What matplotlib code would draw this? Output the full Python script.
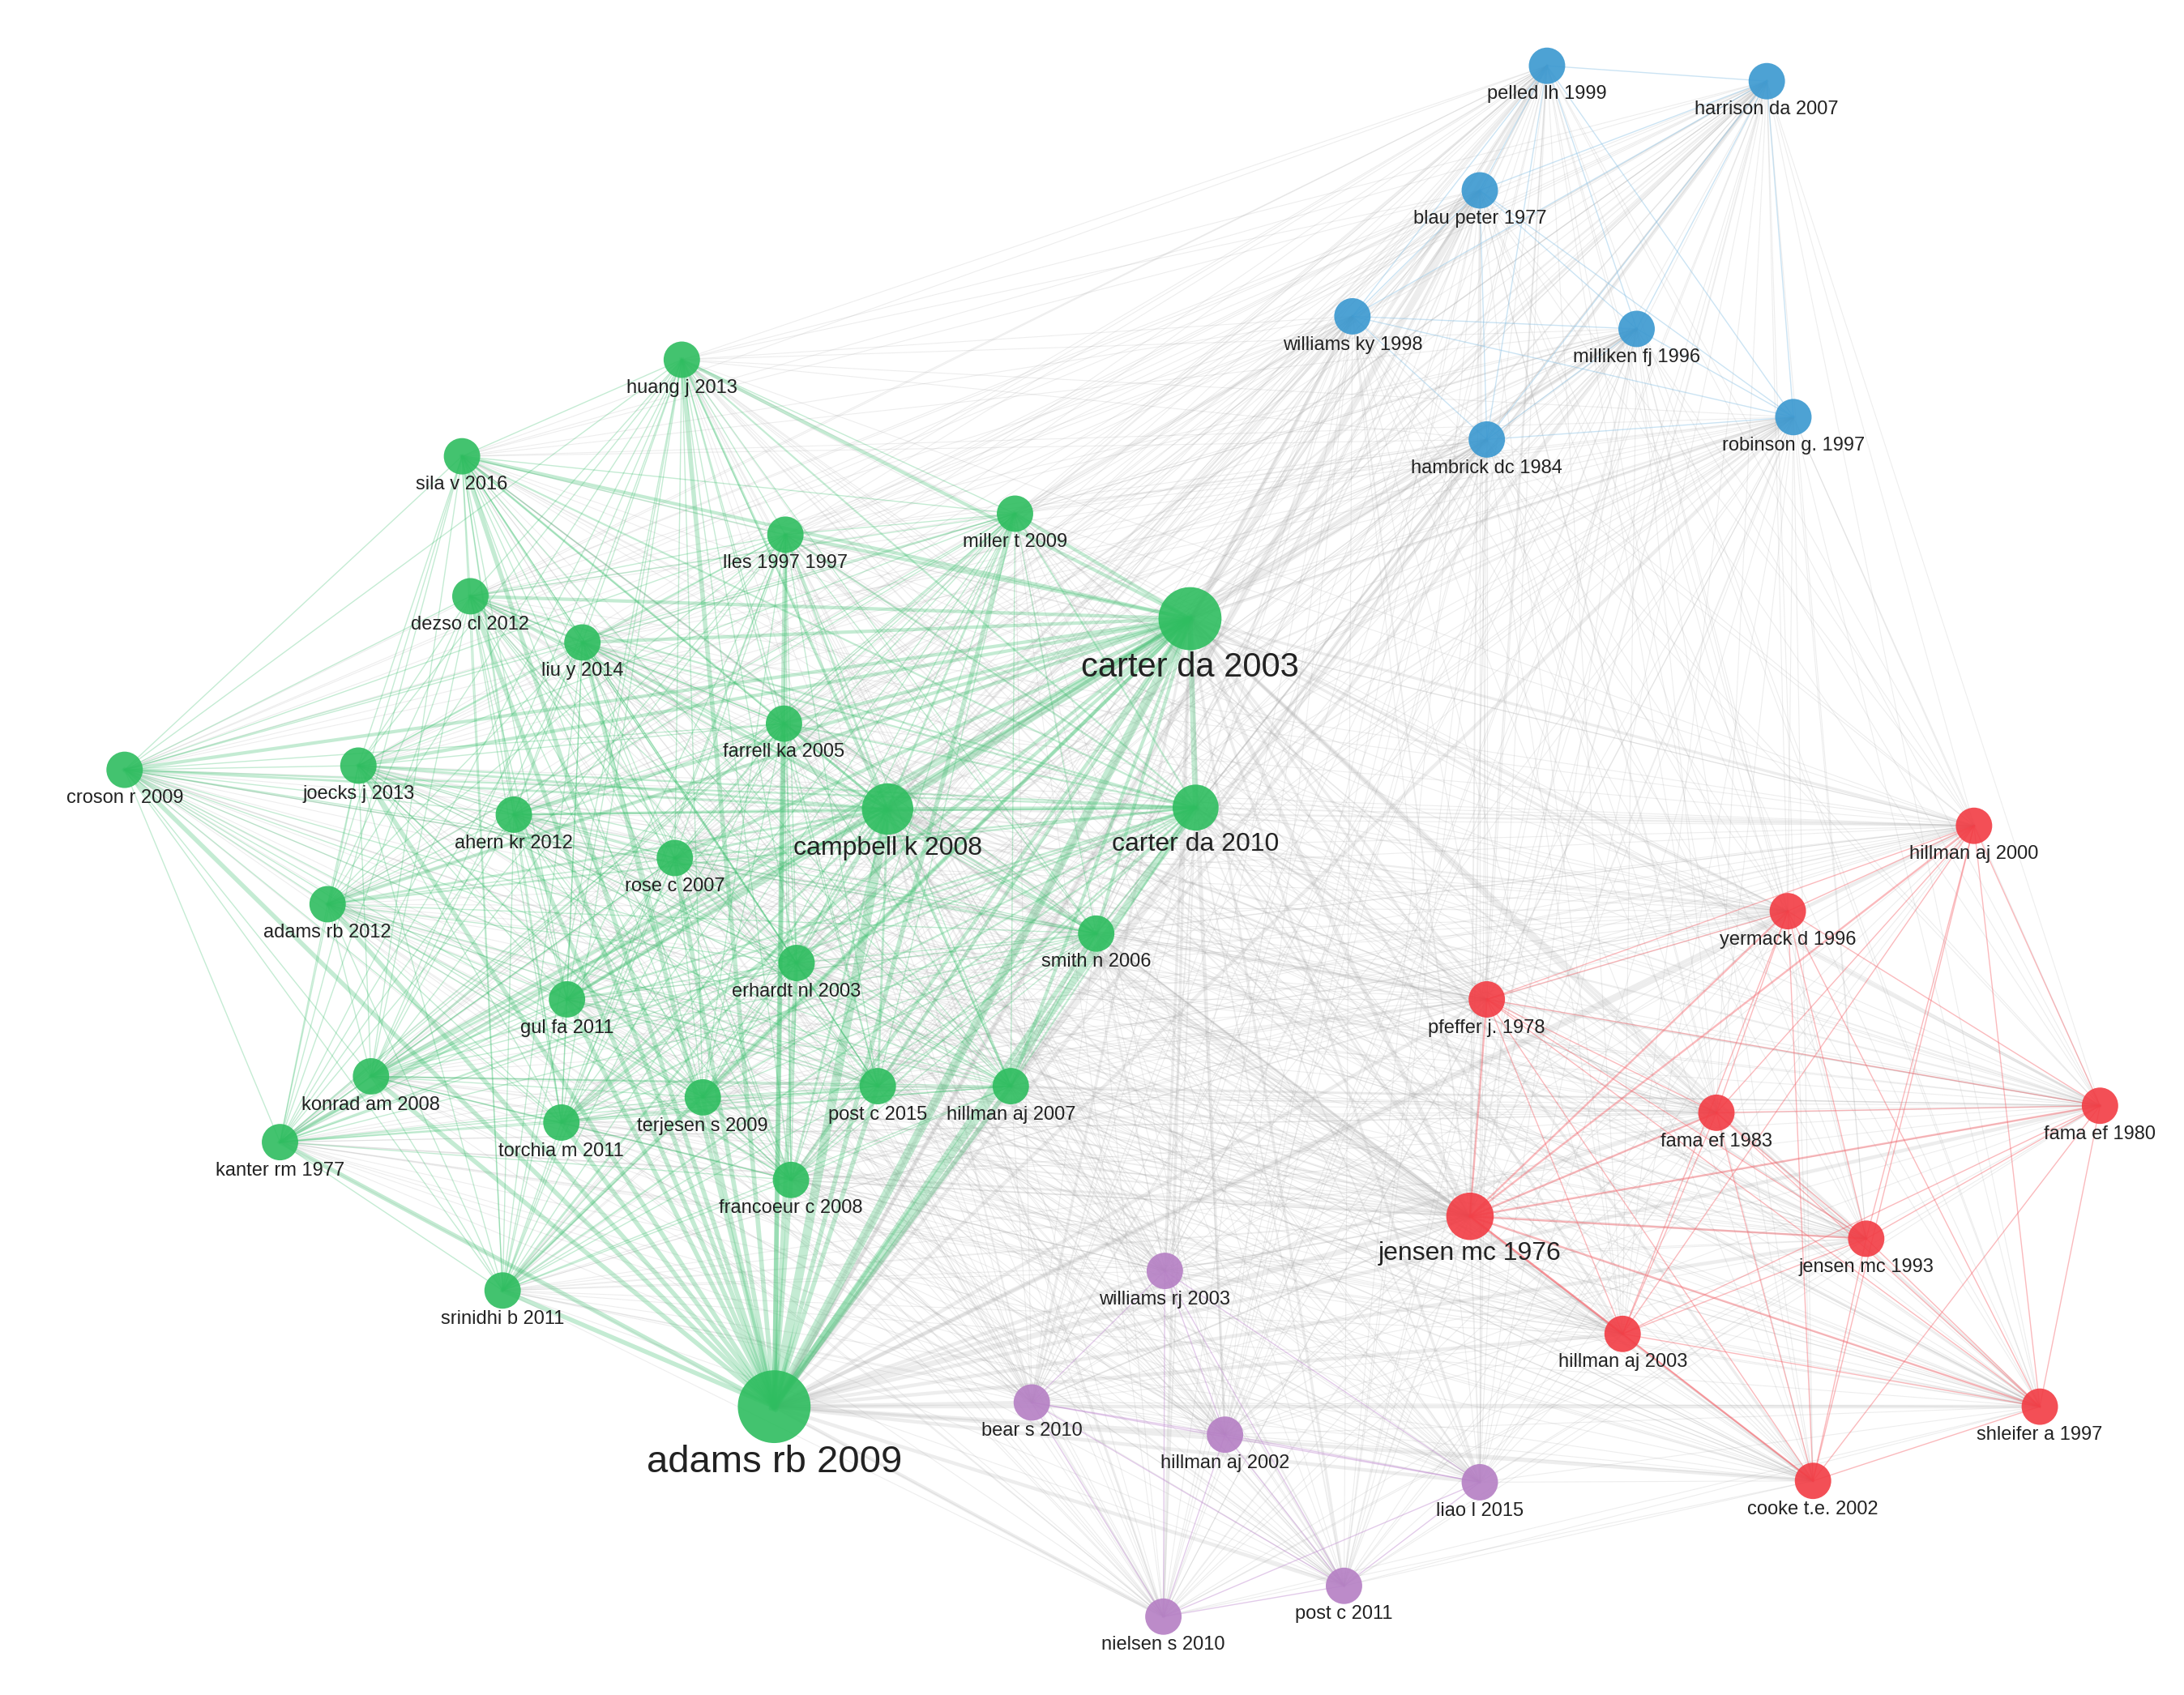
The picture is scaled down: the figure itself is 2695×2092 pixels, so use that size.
import matplotlib
matplotlib.use("Agg")
import matplotlib.pyplot as plt
import itertools

plt.rcParams['font.family'] = ['Liberation Sans', 'DejaVu Sans']

labels = ["pelled lh 1999","harrison da 2007","blau peter 1977","williams ky 1998","milliken fj 1996","hambrick dc 1984","robinson g. 1997",
"huang j 2013","sila v 2016","miller t 2009","lles 1997 1997","dezso cl 2012","carter da 2003","liu y 2014","farrell ka 2005","croson r 2009",
"joecks j 2013","ahern kr 2012","campbell k 2008","carter da 2010","rose c 2007","adams rb 2012","smith n 2006","erhardt nl 2003","gul fa 2011",
"konrad am 2008","terjesen s 2009","post c 2015","hillman aj 2007","kanter rm 1977","torchia m 2011","francoeur c 2008","srinidhi b 2011","adams rb 2009",
"hillman aj 2000","yermack d 1996","pfeffer j. 1978","fama ef 1983","fama ef 1980","jensen mc 1976","jensen mc 1993","hillman aj 2003","shleifer a 1997","cooke t.e. 2002",
"williams rj 2003","bear s 2010","hillman aj 2002","liao l 2015","post c 2011","nielsen s 2010"]
xs = [1105,1262,1057,966,1169,1062,1281,
487,330,725,561,336,850,416,560,89,256,367,634,854,482,234,783,569,405,265,502,627,722,200,401,565,359,553,
1410,1277,1062,1226,1500,1050,1333,1159,1457,1295,
832,737,875,1057,960,831]
ys = [47,58,136,226,235,314,298,
257,326,367,382,426,442,459,517,550,547,582,578,577,613,646,667,688,714,769,784,776,776,816,802,843,922,1005,
590,651,714,795,790,869,885,953,1005,1058,
908,1002,1025,1059,1133,1155]
cluster = [0]*7 + [1]*27 + [2]*10 + [3]*6
weight = [1]*7 + [1]*5 + [3] + [1]*5 + [2,1.6] + [1]*13 + [4] + [1]*5 + [1.7] + [1]*4 + [1]*6

colors = {0: "#3a98d0", 1: "#2ebd5f", 2: "#f23c44", 3: "#b57fc4"}
ecolors = {0: "#8cc3e6", 1: "#3cbf6e", 2: "#f5656c", 3: "#c08cd0"}

fig = plt.figure(figsize=(26.95, 20.92), dpi=100)
ax = fig.add_axes([0, 0, 1, 1])
ax.set_xlim(0, 1560); ax.set_ylim(1211, 0); ax.axis("off")

n = len(labels)
for i, j in itertools.combinations(range(n), 2):
    w = weight[i] * weight[j]
    if cluster[i] == cluster[j]:
        a = 0.3 if cluster[i] == 1 else 0.45
        ax.plot([xs[i], xs[j]], [ys[i], ys[j]], color=ecolors[cluster[i]], lw=min(1.0 * w, 8), alpha=a, zorder=1)
    else:
        ax.plot([xs[i], xs[j]], [ys[i], ys[j]], color="#a8a8a8", lw=min(0.8 * w, 5), alpha=0.2, zorder=0)

for i in range(n):
    r = 13 * weight[i] ** 0.5
    s = (r * 1.727 * 72 / 100 * 2) ** 2
    ax.scatter(xs[i], ys[i], s=s, color=colors[cluster[i]], alpha=0.9, zorder=3, edgecolors="none")
    if weight[i] >= 3:
        fs = 34 if weight[i] > 3.5 else 30
    elif weight[i] >= 1.5:
        fs = 23
    else:
        fs = 17
    ax.text(xs[i], ys[i] + r + 1, labels[i], ha="center", va="top", fontsize=fs, color="#222222", zorder=4)

fig.savefig("out.png", dpi=100, facecolor="white")
